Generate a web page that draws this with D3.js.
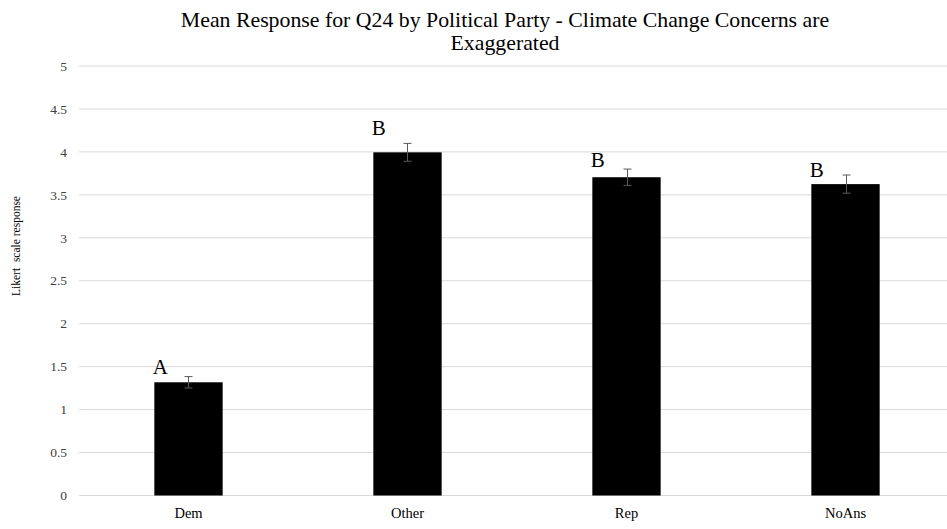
<!DOCTYPE html>
<html>
<head>
<meta charset="utf-8">
<script src="https://cdn.jsdelivr.net/npm/d3@7"></script>
<style>
  html, body { margin: 0; padding: 0; background: #fff; }
  svg { display: block; }
</style>
</head>
<body>
<svg id="chart" width="947" height="529" font-family="'Liberation Serif', 'DejaVu Serif', serif"></svg>
<script>
const categories = ["Dem", "Other", "Rep", "NoAns"];
const means = [1.318, 3.995, 3.705, 3.625];
const errors = [0.066, 0.104, 0.095, 0.106];
const letters = ["A", "B", "B", "B"];
const letterLevels = [1.41, 4.2, 3.82, 3.71];
const yTicks = [0, 0.5, 1, 1.5, 2, 2.5, 3, 3.5, 4, 4.5, 5];
const titleLines = ["Mean Response for Q24 by Political Party - Climate Change Concerns are", "Exaggerated"];
const yTitle = "Likert  scale response";

(function () {
const FONT = "'Liberation Serif', 'DejaVu Serif', serif";
const svg = d3.select("#chart");
const W = 947;
const plotLeft = 79, plotRight = 955, plotTop = 66, plotBottom = 495.5;

const x = d3.scaleBand().domain(categories).range([plotLeft, plotRight])
  .paddingInner(0.688).paddingOuter(0.344);
const y = d3.scaleLinear().domain([0, 5]).range([plotBottom, plotTop]);

// gridlines
svg.append("g").selectAll("line").data(yTicks).join("line")
  .attr("x1", plotLeft).attr("x2", W)
  .attr("y1", d => y(d)).attr("y2", d => y(d))
  .attr("stroke", "#d9d9d9").attr("stroke-width", 1);

// y tick labels
svg.append("g").selectAll("text").data(yTicks).join("text")
  .attr("font-family", FONT)
  .attr("x", 67).attr("y", d => y(d)).attr("dy", "0.35em")
  .attr("text-anchor", "end").attr("font-size", 13.5).attr("fill", "#404040")
  .text(d => d);

// bars
svg.append("g").selectAll("rect").data(categories).join("rect")
  .attr("x", d => x(d)).attr("width", x.bandwidth())
  .attr("y", (d, i) => y(means[i])).attr("height", (d, i) => y(0) - y(means[i]))
  .attr("fill", "#000");

// error bars
const eg = svg.append("g").attr("stroke", "#595959").attr("stroke-width", 1);
categories.forEach((c, i) => {
  const cx = Math.round(x(c) + x.bandwidth() / 2) + 0.5;
  const y1 = y(means[i] + errors[i]), y2 = y(means[i] - errors[i]);
  eg.append("line").attr("x1", cx).attr("x2", cx).attr("y1", y1).attr("y2", y2);
  eg.append("line").attr("x1", cx - 4).attr("x2", cx + 4).attr("y1", y1).attr("y2", y1);
  eg.append("line").attr("x1", cx - 4).attr("x2", cx + 4).attr("y1", y2).attr("y2", y2);
});

// significance letters
svg.append("g").selectAll("text").data(categories).join("text")
  .attr("font-family", FONT)
  .attr("x", d => x(d) - 1.5)
  .attr("y", (d, i) => y(letterLevels[i]))
  .attr("font-size", 21).attr("fill", "#000")
  .text((d, i) => letters[i]);

// x category labels
svg.append("g").selectAll("text").data(categories).join("text")
  .attr("font-family", FONT)
  .attr("x", d => x(d) + x.bandwidth() / 2).attr("y", 518)
  .attr("text-anchor", "middle").attr("font-size", 14.5).attr("fill", "#000")
  .text(d => d);

// title
svg.append("g").selectAll("text").data(titleLines).join("text")
  .attr("font-family", FONT)
  .attr("x", 505).attr("y", (d, i) => 27 + i * 23)
  .attr("text-anchor", "middle").attr("font-size", 21.8).attr("fill", "#000")
  .text(d => d);

// y axis title
svg.append("text")
  .attr("font-family", FONT)
  .attr("transform", "translate(20,246) rotate(-90)")
  .attr("text-anchor", "middle").attr("font-size", 11.5).attr("fill", "#000")
  .attr("xml:space", "preserve")
  .text(yTitle);
})();
</script>
</body>
</html>
